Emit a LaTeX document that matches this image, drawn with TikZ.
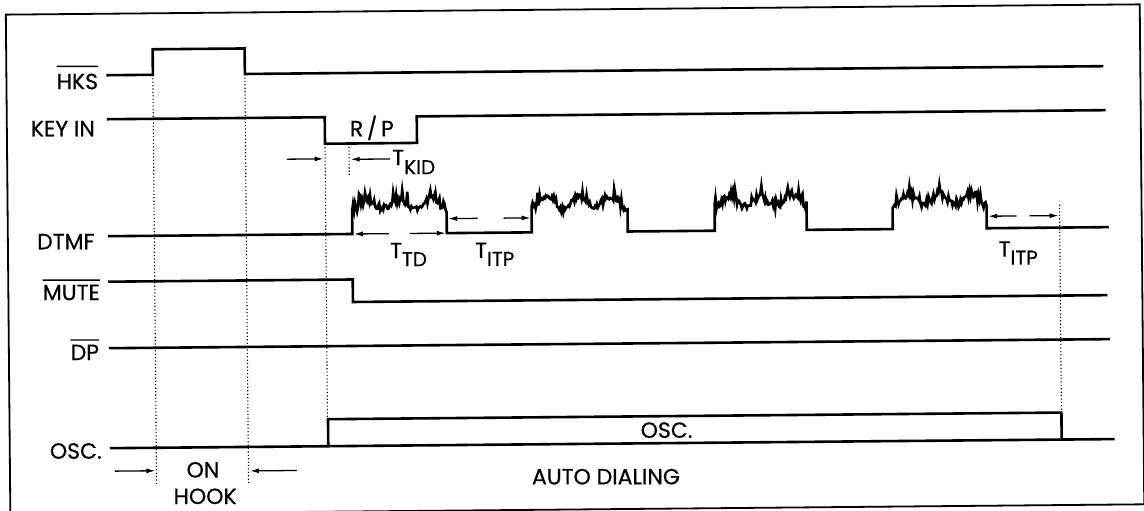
\documentclass[tikz,border=0pt]{standalone}
\usepackage{fontspec}
\setmainfont{Poppins}[FakeBold=0.5]
\usetikzlibrary{arrows.meta}
\begin{document}
\begin{tikzpicture}[x=1pt,y=-1pt,
  sig/.style={line width=2.6pt, line join=miter},
  frm/.style={line width=1.8pt},
  dots/.style={line width=1.1pt, dash pattern=on 1.2pt off 2.2pt},
  arr/.style={line width=1.3pt, -{Latex[length=9pt,width=5pt]}},
  lbl/.style={inner sep=0pt, font=\fontsize{22}{22}\selectfont},
  tlbl/.style={inner sep=0pt, anchor=north west, font=\fontsize{22}{22}\selectfont},
  ovl/.style={line width=1.4pt},
  burst/.style 2 args={insert path={
    -- (#1,210) -- plot[domain=#1:#2, samples=95]
      (\x,{209 - 11*(sin((540/(#2-#1))*(\x-#1)))^2 - 3.5*rand - 11*(rnd)^6})
    -- (#2,232)}}]
\useasboundingbox (0,0) rectangle (1144,511);
\begin{scope}[rotate around={0.52:(572,255)}]
  % frame
  \draw[frm] (8,9.5) rectangle (1142,509.5);

  % dotted guide lines
  \draw[dots] (154.5,71) -- (154.5,481);
  \draw[dots] (246.5,71) -- (246.5,481);
  \draw[dots] (326,141.5) -- (326,417);
  \draw[dots] (350,141.5) -- (350,173);
  \draw[dots] (1060,209) -- (1060,417);

  % signal labels
  \node[lbl] (hks) at (79,77) {HKS};
  \node[lbl] (keyin) at (64,124) {KEY IN};
  \node[lbl] (dtmf) at (66,237) {DTMF};
  \node[lbl] (mute) at (71,288) {MUTE};
  \node[lbl] (dp) at (84,348) {DP};
  \node[lbl] (osc) at (74,446.5) {OSC.};
  \draw[ovl] ([yshift=7pt]hks.north west) -- ([yshift=7pt]hks.north east);
  \draw[ovl] ([yshift=4.5pt]mute.north west) -- ([yshift=4.5pt]mute.north east);
  \draw[ovl] ([yshift=4.5pt]dp.north west) -- ([yshift=4.5pt]dp.north east);

  % HKS
  \draw[sig] (108,71) -- (154.5,71) -- (154.5,45.5) -- (246.5,45.5) -- (246.5,71) -- (1105,71);
  % KEY IN
  \draw[sig] (108,115) -- (326,115) -- (326,141.5) -- (418,141.5) -- (418,115) -- (1107,115);
  % DTMF
  \pgfmathsetseed{4711}
  \draw[sig] (108,232) -- (352.5,232) [burst={352.5}{447}]
             -- (532,232) [burst={532}{628}]
             -- (715,232) [burst={715}{807}]
             -- (893,232) [burst={893}{987}]
             -- (1109,232);
  % MUTE
  \draw[sig] (108,277.5) -- (352.5,277.5) -- (352.5,300) -- (1107,300);
  % DP
  \draw[sig] (108,344) -- (1109,344);
  % OSC
  \draw[sig] (108,444) -- (1113,444);
  \draw[sig] (326.5,444) -- (326.5,417) -- (1060,417) -- (1060,444);

  % in-diagram labels
  \node[lbl] (rp) at (373,126) {R\,/\,P};
  \node[lbl] (oscin) at (665,431) {OSC.};
  \node[lbl] (on) at (201,466.5) {ON};
  \node[lbl] (hook) at (203,493) {HOOK};
  \node[lbl] (auto) at (604,477) {AUTO DIALING};
  \node[tlbl] (tkid) at (393,148) {T\raisebox{-9pt}{\fontsize{20}{20}\selectfont KID}};
  \node[tlbl] (ttd) at (390,241) {T\raisebox{-8pt}{\fontsize{20}{20}\selectfont TD}};
  \node[tlbl] (titp) at (475,241.5) {T\raisebox{-8pt}{\fontsize{20}{20}\selectfont ITP}};
  \node[tlbl] (titpb) at (998.5,245) {T\raisebox{-8pt}{\fontsize{20}{20}\selectfont ITP}};

  % arrow end points
  \coordinate (kidA) at (288,156.6);  \coordinate (kidB) at (324.5,156.6);
  \coordinate (kidC) at (391,157.3);  \coordinate (kidD) at (351.5,157.3);
  \coordinate (tdA) at (389,232);     \coordinate (tdB) at (354,232);
  \coordinate (tdC) at (410,232);     \coordinate (tdD) at (446,232);
  \coordinate (itA) at (478,217.5);   \coordinate (itB) at (448.5,217.5);
  \coordinate (itC) at (504,217.5);   \coordinate (itD) at (531,217.5);
  \coordinate (itE) at (1017,220);    \coordinate (itF) at (988.5,220);
  \coordinate (itG) at (1030,220);    \coordinate (itH) at (1059,220);
  \coordinate (hkA) at (113,467);     \coordinate (hkB) at (153.5,467);
  \coordinate (hkC) at (295,468);     \coordinate (hkD) at (248,468);

  \draw[arr] (kidA) -- (kidB);
  \draw[arr] (kidC) -- (kidD);
  \draw[arr] (tdA) -- (tdB);
  \draw[arr] (tdC) -- (tdD);
  \draw[arr] (itA) -- (itB);
  \draw[arr] (itC) -- (itD);
  \draw[arr] (itE) -- (itF);
  \draw[arr] (itG) -- (itH);
  \draw[arr] (hkA) -- (hkB);
  \draw[arr] (hkC) -- (hkD);
\end{scope}
\end{tikzpicture}
\end{document}
